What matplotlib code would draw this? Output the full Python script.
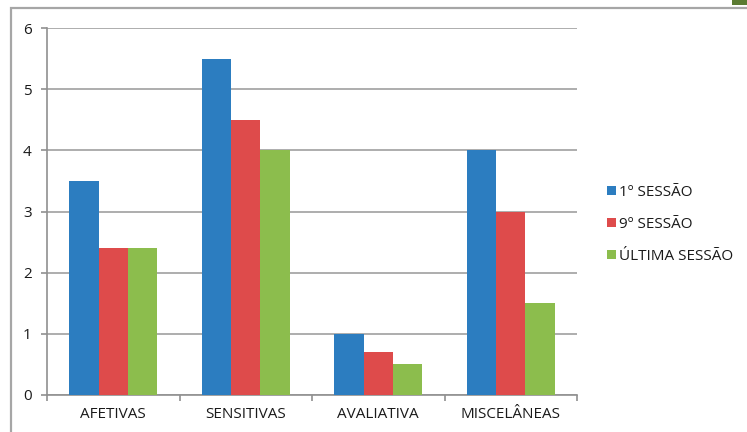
import matplotlib
matplotlib.use("Agg")
import matplotlib.pyplot as plt
import numpy as np
from matplotlib.patches import Rectangle

categories = ["AFETIVAS", "SENSITIVAS", "AVALIATIVA", "MISCELÂNEAS"]
series_names = ["1º SESSÃO", "9º SESSÃO", "ÚLTIMA SESSÃO"]
sessao_1 = [3.5, 5.5, 1.0, 4.0]
sessao_9 = [2.4, 4.5, 0.7, 3.0]
ultima = [2.4, 4.0, 0.5, 1.5]
colors = ["#2C7DC0", "#DE4B4B", "#8CBD4D"]

plt.rcParams['font.family'] = ['Open Sans', 'DejaVu Sans']

W, H = 747, 432
fig = plt.figure(figsize=(W / 100, H / 100), dpi=100)

# outer chart frame
fig.patches.append(Rectangle((11 / W, -0.05), 1.2, (H - 8) / H + 0.05, transform=fig.transFigure,
                             fill=False, edgecolor="#A6A6A6", linewidth=1.6))
fig.patches.append(Rectangle((732 / W, (H - 5) / H), 20 / W, 10 / H, transform=fig.transFigure,
                             facecolor="#5B7B32", edgecolor="none"))

ax = fig.add_axes([47 / W, (H - 395) / H, 530 / W, 367 / H])
x = np.arange(len(categories))
w = 1 / 4.5
for i, (vals, name) in enumerate(zip([sessao_1, sessao_9, ultima], series_names)):
    ax.bar(x + (i - 1) * w, vals, width=w, color=colors[i], label=name, zorder=3)

ax.set_xlim(-0.5, len(categories) - 0.5)
ax.set_ylim(0, 6)
ax.set_yticks(range(0, 7))
ax.yaxis.grid(True, color="#A0A0A0", linewidth=1.2, zorder=0)
ax.set_xticks(np.arange(-0.5, len(categories), 1.0))
ax.set_xticklabels([])
ax.set_xticks(x, minor=True)
ax.set_xticklabels(categories, minor=True, fontsize=11, color="#1A1A1A")
ax.tick_params(axis='x', which='minor', length=0, pad=9)
ax.tick_params(axis='x', which='major', length=4, color="#909090", width=1.2)
ax.tick_params(axis='y', length=4, color="#909090", width=1.2, pad=7, labelsize=11, labelcolor="#1A1A1A")
for s in ["top", "right"]:
    ax.spines[s].set_visible(False)
for s in ["left", "bottom"]:
    ax.spines[s].set_color("#909090")
    ax.spines[s].set_linewidth(1.2)

leg = fig.legend(loc="upper left", bbox_to_anchor=(601 / W, (H - 179) / H), frameon=False,
                 fontsize=11, handlelength=0.55, handleheight=0.55, handletextpad=0.25,
                 labelspacing=1.1, borderaxespad=0)
for t in leg.get_texts():
    t.set_color("#1A1A1A")

fig.savefig("out.png", dpi=100)
